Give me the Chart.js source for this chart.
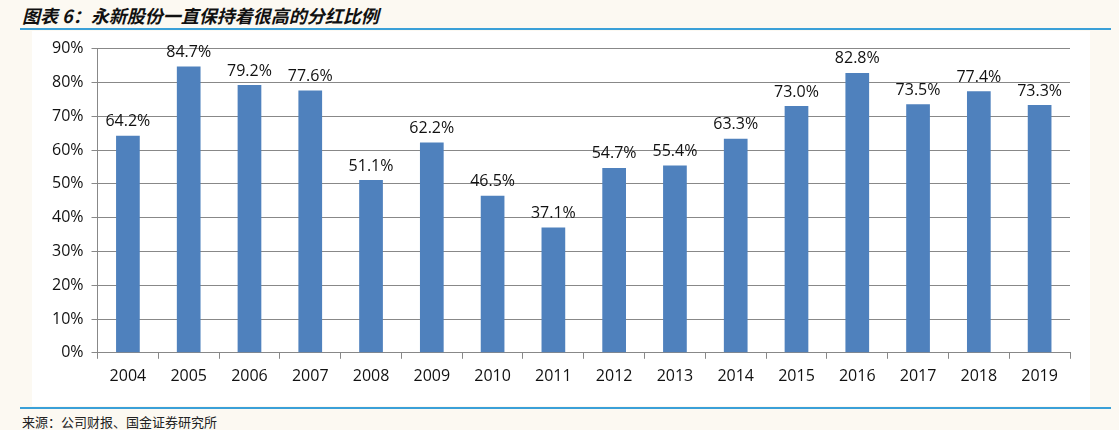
<!DOCTYPE html>
<html><head><meta charset="utf-8">
<script src="https://cdn.jsdelivr.net/npm/chart.js@4"></script>
<style>
body{margin:0;width:1119px;height:430px;background:#fcf9f2;position:relative;overflow:hidden;font-family:"Noto Sans CJK SC",sans-serif}
#title{position:absolute;left:22px;top:2px;font-size:18px;font-weight:bold;font-style:italic;color:#111}
#l1{position:absolute;left:20px;right:8px;top:28px;height:2px;background:#3aa0d8}
#l2{position:absolute;left:20px;right:8px;top:407px;height:2px;background:#3aa0d8}
#src{position:absolute;left:22px;top:412px;font-size:13px;color:#222}
#box{position:absolute;left:32px;top:31px;width:1058px;height:375px;background:#fff}
canvas{display:block}
</style></head><body>
<div id="title">图表 6：永新股份一直保持着很高的分红比例</div>
<div id="l1"></div>
<div id="box"><canvas id="c" width="1058" height="375"></canvas></div>
<div id="l2"></div>
<div id="src">来源：公司财报、国金证券研究所</div>
<script>
const categories = ['2004','2005','2006','2007','2008','2009','2010','2011','2012','2013','2014','2015','2016','2017','2018','2019'];
const payoutRatio = [64.2,84.7,79.2,77.6,51.1,62.2,46.5,37.1,54.7,55.4,63.3,73.0,82.8,73.5,77.4,73.3];

const labelPlugin = {
  id: 'labels',
  afterDatasetsDraw(chart) {
    const ctx = chart.ctx;
    ctx.save();
    ctx.font = '16px "Open Sans", sans-serif';
    ctx.fillStyle = '#111';
    ctx.textAlign = 'center';
    ctx.textBaseline = 'bottom';
    chart.getDatasetMeta(0).data.forEach((bar, i) => {
      ctx.fillText(payoutRatio[i].toFixed(1) + '%', bar.x, bar.y - 6);
    });
    ctx.restore();
  }
};

new Chart(document.getElementById('c'), {
  type: 'bar',
  data: {
    labels: categories,
    datasets: [{ data: payoutRatio, backgroundColor: '#4f81bd', categoryPercentage: 0.6, barPercentage: 0.65 }]
  },
  options: {
    responsive: false, animation: false,
    devicePixelRatio: 1,
    layout: { padding: { top: 12, right: 20, left: 12, bottom: 12 } },
    plugins: { legend: { display: false }, tooltip: { enabled: false } },
    scales: {
      x: {
        grid: { display: true, offset: true, drawOnChartArea: false, color: '#888', tickLength: 6 },
        border: { color: '#888' },
        ticks: { color: '#111', autoSkip: false, maxRotation: 0, font: { size: 16, family: '"Open Sans", sans-serif' }, padding: 8 }
      },
      y: {
        min: 0, max: 90,
        grid: { color: '#888', tickLength: 6 },
        border: { color: '#888' },
        ticks: { stepSize: 10, color: '#111', font: { size: 16, family: '"Open Sans", sans-serif' }, callback: v => v + '%', padding: 8 }
      }
    }
  },
  plugins: [labelPlugin]
});
</script>
</body></html>
